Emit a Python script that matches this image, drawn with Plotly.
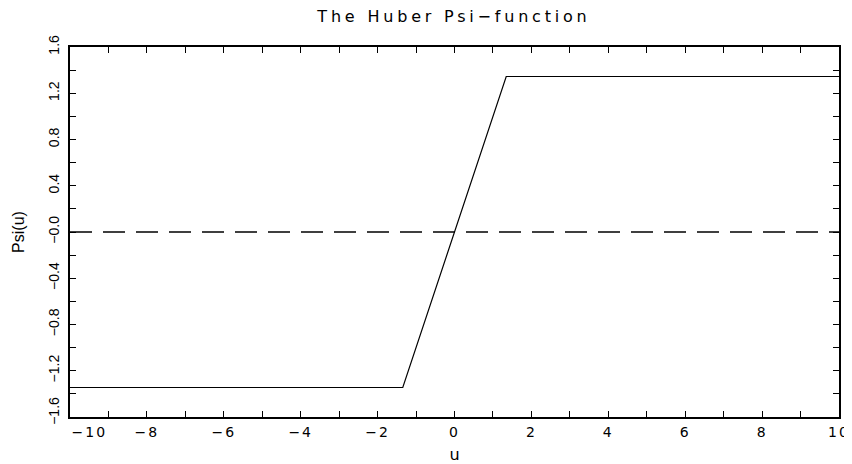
import plotly.graph_objects as go

# Data
u_vals = [-10, -1.345, 1.345, 10]
psi_vals = [-1.345, -1.345, 1.345, 1.345]
zero_u = [-10, 10]
zero_psi = [0, 0]

x_tickvals = list(range(-10, 11))
x_ticktext = ["&nbsp;&nbsp;&nbsp;&nbsp;&nbsp;&nbsp;−10", "", "−8", "", "−6", "", "−4", "", "−2", "", "0", "", "2", "", "4", "", "6", "", "8", "", "10"]
y_tickvals = [-1.6, -1.4, -1.2, -1.0, -0.8, -0.6, -0.4, -0.2, 0.0, 0.2, 0.4, 0.6, 0.8, 1.0, 1.2, 1.4, 1.6]
y_ticktext = ["&nbsp;&nbsp;−1.6", "", "−1.2", "", "−0.8", "", "−0.4", "", "−0.0", "", "0.4", "", "0.8", "", "1.2", "", "1.6"]

LS = "letter-spacing:2px"

fig = go.Figure()
fig.add_trace(go.Scatter(x=zero_u, y=zero_psi, mode="lines",
                         line=dict(color="black", width=1.3, dash="22px,11px"),
                         showlegend=False, hoverinfo="skip"))
fig.add_trace(go.Scatter(x=u_vals, y=psi_vals, mode="lines",
                         line=dict(color="black", width=1.2),
                         showlegend=False))

fig.update_layout(
    width=844, height=456,
    margin=dict(l=62, r=13, t=39, b=47),
    paper_bgcolor="white", plot_bgcolor="white",
    font=dict(family="Liberation Sans, Arial, sans-serif", color="black", size=14),
    title=dict(text="<span style='letter-spacing:3.8px'>The Huber Psi−function</span>",
               x=0.5284, xanchor="center", y=0.9825, yanchor="middle",
               font=dict(family="DejaVu Sans", size=16, color="black")),
)
fig.update_xaxes(
    range=[-10, 10], tickmode="array", tickvals=x_tickvals,
    ticktext=[f"<span style='{LS}'>{t}</span>" if t else "" for t in x_ticktext],
    ticks="inside", ticklen=6, tickwidth=1, tickcolor="black",
    showline=True, linewidth=2, linecolor="black", mirror="ticks",
    showgrid=False, zeroline=False, automargin=False, ticklabelstandoff=1,
    tickfont=dict(size=14, family="DejaVu Sans"),
    title=dict(text="u", font=dict(size=16, family="DejaVu Sans"), standoff=26),
)
fig.update_yaxes(
    range=[-1.6, 1.6], tickmode="array", tickvals=y_tickvals, ticktext=y_ticktext,
    ticks="inside", ticklen=6, tickwidth=1, tickcolor="black",
    showline=True, linewidth=2, linecolor="black", mirror="ticks",
    showgrid=False, zeroline=False, tickangle=-90, ticklabelstandoff=3,
    automargin=False,
    tickfont=dict(size=14, family="Liberation Sans"),
    title=dict(text="Psi(u)", font=dict(size=16, family="Liberation Sans"), standoff=18),
)

fig.write_html("out.html")
